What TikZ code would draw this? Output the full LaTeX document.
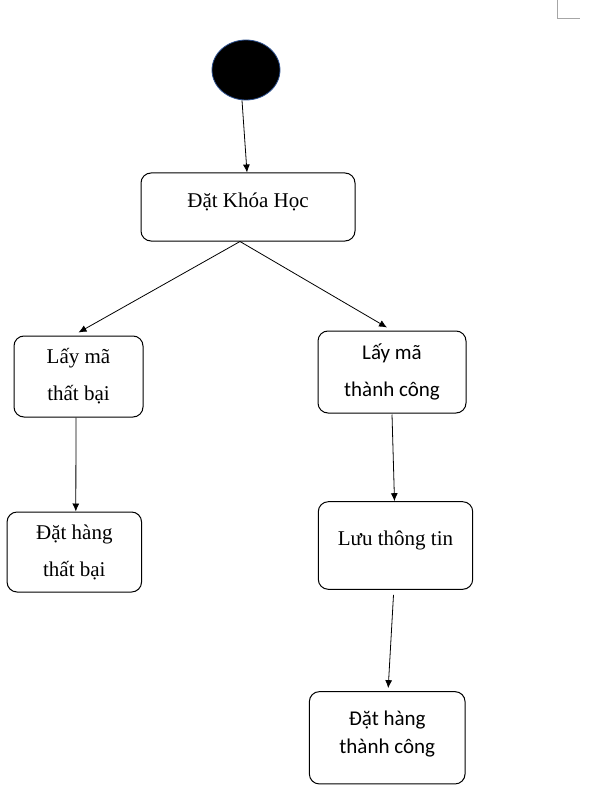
\documentclass[tikz,border=0pt]{standalone}
\usepackage{fontspec}
\setmainfont{Liberation Serif}
\newfontfamily\calibri{Carlito}
\usetikzlibrary{arrows.meta,shapes.geometric,positioning}

\begin{document}
\begin{tikzpicture}[x=1pt,y=-1pt,->,>={Latex[length=8pt,width=7pt]},line width=0.8pt,
	start node/.style={ellipse,draw={rgb,255:red,47;green,82;blue,143},fill=black,minimum width=68pt,minimum height=60pt},
	act node/.style={rectangle,rounded corners=10pt,draw,line width=1pt,align=center,font=\fontsize{21}{37}\selectfont},
	sans node/.style={act node,font=\calibri\fontsize{21}{37}\selectfont}
]
	\useasboundingbox (0,0) rectangle (607,802);
	\draw[-,gray!70,line width=1pt] (557,0) -- (557,19) -- (580,19);

	\node[start node] (S) at (246,70) {};
	\node[act node,minimum width=214pt,minimum height=68pt,text depth=14pt] (DK) at (248,207) {Đặt Khóa Học};

	\node[act node,minimum width=129pt,minimum height=81pt] (LB) at (78.5,376.5) {Lấy mã\\thất bại};
	\node[sans node,minimum width=148pt,minimum height=82pt] (LC) at (392,372) {Lấy mã\\thành công};

	\node[act node,minimum width=134.5pt,minimum height=80pt] (HB) at (74.3,552) {Đặt hàng\\thất bại};
	\node[act node,minimum width=154.4pt,minimum height=87.6pt,text depth=14pt] (LT) at (395.5,545.5) {Lưu thông tin};
	\node[sans node,minimum width=155.7pt,minimum height=92.3pt,text depth=11pt,font=\calibri\fontsize{21}{28}\selectfont] (HC) at (387.2,737.8) {Đặt hàng\\thành công};

	\draw[->] ([xshift=-4pt]S.south) -- ([xshift=-1pt]DK.north);
	\draw[->] ([xshift=-8pt]DK.south) -- ([yshift=3pt]LB.north);
	\draw[->] ([xshift=-8pt]DK.south) -- ([xshift=-5pt,yshift=3pt]LC.north);
	\draw[->] ([xshift=-2.5pt]LB.south) -- ([xshift=1.5pt]HB.north);
	\draw[->] ([yshift=-1pt]LC.south) -- ([xshift=-1pt]LT.north);
	\draw[->] ([xshift=-2pt,yshift=-5pt]LT.south) -- ([xshift=1pt,yshift=3pt]HC.north);

\end{tikzpicture}
\end{document}
